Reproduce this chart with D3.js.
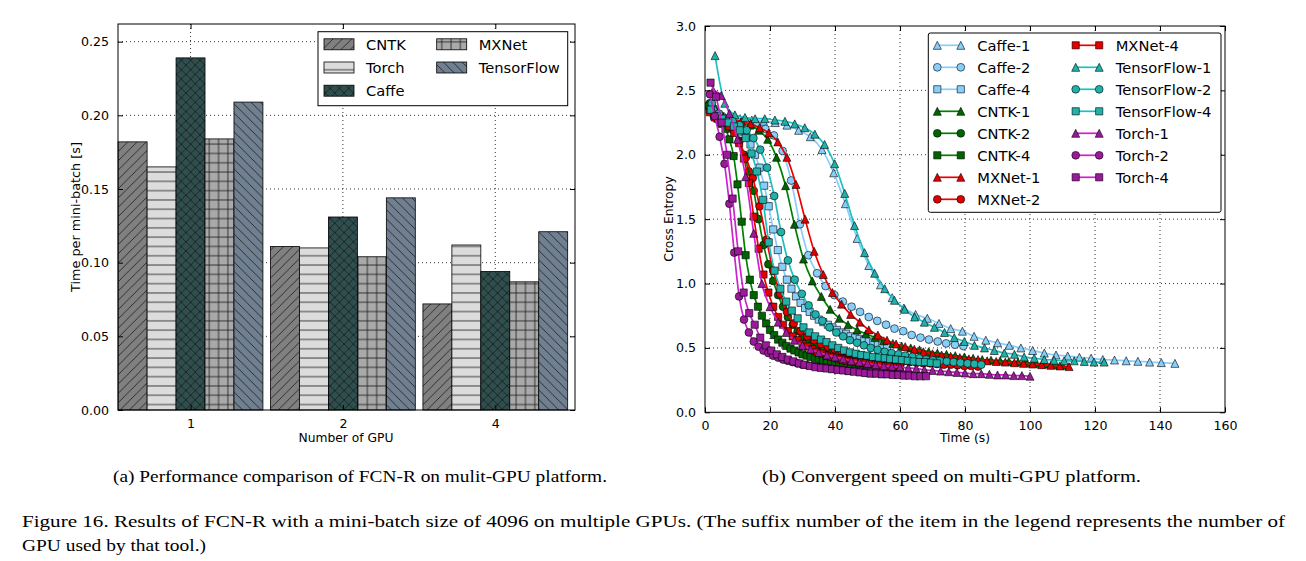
<!DOCTYPE html>
<html><head><meta charset="utf-8">
<script src="https://cdn.jsdelivr.net/npm/d3@7"></script>
<style>body{margin:0;background:#fff} svg{display:block}</style>
</head><body><svg id="c" width="1306" height="561"></svg>
<script>
// ---------------- DATA ----------------
const groups = ["1", "2", "4"];
const frameworks = ["CNTK", "Torch", "Caffe", "MXNet", "TensorFlow"];
const barCNTK = [0.182, 0.111, 0.072];
const barTorch = [0.165, 0.110, 0.112];
const barCaffe = [0.239, 0.131, 0.094];
const barMXNet = [0.184, 0.104, 0.087];
const barTensorFlow = [0.209, 0.144, 0.121];
const leftYTicks = [0, 0.05, 0.10, 0.15, 0.20, 0.25];

const rightXTicks = [0, 20, 40, 60, 80, 100, 120, 140, 160];
const rightYTicks = [0, 0.5, 1.0, 1.5, 2.0, 2.5, 3.0];

const caffe1 = [[3.6,2.30],[7.2,2.29],[10.8,2.28],[14.4,2.27],[18,2.26],[21.6,2.25],[25.2,2.23],[28.8,2.19],[32.4,2.14],[36,2.04],[39.6,1.86],[43.2,1.62],[46.8,1.35],[50.4,1.14],[54,0.99],[57.6,0.89],[61.2,0.81],[64.8,0.76],[68.4,0.73],[72,0.69],[75.6,0.65],[79.2,0.63],[82.8,0.59],[86.4,0.56],[90,0.54],[93.6,0.52],[97.2,0.50],[100.8,0.48],[104.4,0.46],[108,0.445],[111.6,0.437],[115.2,0.427],[118.8,0.42],[122.4,0.41],[126,0.406],[129.6,0.40],[133.2,0.396],[136.8,0.39],[140.4,0.386],[144.6,0.38]];
const caffe2 = [[2.7,2.36],[5.3,2.30],[8.0,2.28],[10.6,2.27],[13.3,2.25],[15.9,2.23],[18.6,2.20],[21.2,2.15],[23.9,2.03],[26.5,1.80],[29.2,1.46],[31.8,1.22],[34.5,1.08],[37.1,0.98],[39.8,0.91],[42.4,0.86],[45.1,0.82],[47.7,0.78],[50.4,0.74],[53,0.71],[55.7,0.68],[58.3,0.65],[61,0.63],[63.6,0.60],[66.3,0.58],[68.9,0.565],[71.6,0.55],[74.2,0.535],[76.9,0.525],[79.5,0.515]];
const caffe4 = [[1.4,2.35],[2.8,2.30],[4.2,2.28],[5.6,2.27],[7,2.25],[8.4,2.23],[9.8,2.21],[11.2,2.18],[12.6,2.14],[14,2.08],[15.4,2.00],[16.8,1.90],[18.2,1.76],[19.6,1.60],[21,1.42],[22.4,1.26],[23.8,1.13],[25.2,1.03],[26.6,0.96],[28,0.90],[29.4,0.85],[30.8,0.81],[32.2,0.78],[33.6,0.75],[35,0.72],[36.4,0.70],[37.8,0.68],[39.2,0.66],[40.6,0.64],[42,0.62],[43.4,0.61],[44.8,0.59],[46.2,0.58],[47.6,0.57],[49,0.56],[50.4,0.55],[51.8,0.54],[53.2,0.53],[54.6,0.52],[56,0.51]];
const cntk1 = [[2.8,2.38],[5.5,2.30],[8.3,2.27],[11,2.25],[13.8,2.23],[16.5,2.19],[19.3,2.12],[22,1.98],[24.8,1.76],[27.5,1.46],[30.3,1.19],[33,1.02],[35.8,0.90],[38.5,0.80],[41.3,0.73],[44,0.68],[46.8,0.64],[49.5,0.61],[52.3,0.58],[55,0.555],[57.8,0.535],[60.5,0.515],[63.3,0.50],[66,0.485],[68.8,0.47],[71.5,0.46],[74.3,0.45],[77,0.44],[79.8,0.43],[82.5,0.42],[85.3,0.41],[88,0.405],[90.8,0.40],[93.5,0.395],[96.3,0.39],[99,0.385],[101.8,0.38],[104.5,0.375],[107.3,0.37],[110,0.365]];
const cntk2 = [[1.5,2.40],[3,2.32],[4.5,2.28],[6,2.25],[7.5,2.22],[9,2.18],[10.5,2.11],[12,2.00],[13.5,1.87],[15,1.72],[16.5,1.50],[18,1.30],[19.5,1.15],[21,1.02],[22.5,0.91],[24,0.82],[25.5,0.74],[27,0.68],[28.5,0.63],[30,0.59],[31.5,0.56],[33,0.53],[34.5,0.51],[36,0.49],[37.5,0.47],[39,0.455],[40.5,0.445],[42,0.435],[43.5,0.425],[45,0.415],[46.5,0.405],[48,0.40],[49.5,0.395],[51,0.39],[52.5,0.385],[54,0.38],[55.5,0.375],[57,0.37],[58.5,0.365],[60,0.36]];
const cntk4 = [[1.3,2.38],[2.5,2.33],[3.8,2.28],[5,2.24],[6.3,2.20],[7.5,2.12],[8.8,1.99],[10,1.77],[11.3,1.48],[12.5,1.22],[13.8,1.03],[15,0.91],[16.3,0.82],[17.5,0.75],[18.8,0.69],[20,0.64],[21.3,0.60],[22.5,0.565],[23.8,0.54],[25,0.515],[26.3,0.495],[27.5,0.48],[28.8,0.465],[30,0.45],[31.3,0.44],[32.5,0.43],[33.8,0.42],[35,0.41],[36.3,0.405],[37.5,0.40],[38.8,0.39],[40,0.385],[41.3,0.38],[42.5,0.375],[43.8,0.37],[45,0.365],[46.3,0.36],[47.5,0.355],[48.8,0.35],[50,0.35]];
const mxnet1 = [[2.8,2.32],[5.6,2.29],[8.4,2.27],[11.2,2.26],[14,2.24],[16.8,2.21],[19.6,2.17],[22.4,2.10],[25.2,1.98],[28,1.77],[30.8,1.50],[33.6,1.25],[36.4,1.07],[39.2,0.93],[42,0.84],[44.8,0.76],[47.6,0.70],[50.4,0.64],[53.2,0.60],[56,0.56],[58.8,0.53],[61.6,0.51],[64.4,0.49],[67.2,0.47],[70,0.455],[72.8,0.445],[75.6,0.435],[78.4,0.425],[81.2,0.415],[84,0.41],[86.8,0.40],[89.6,0.395],[92.4,0.39],[95.2,0.385],[98,0.38],[100.8,0.375],[103.6,0.37],[106.4,0.365],[109.2,0.36],[112,0.355]];
const mxnet2 = [[2.1,2.35],[4.2,2.28],[6.3,2.25],[8.4,2.20],[10.5,2.10],[12.6,1.98],[14.7,1.82],[16.8,1.60],[18.9,1.34],[21,1.10],[23.1,0.92],[25.2,0.78],[27.3,0.69],[29.4,0.63],[31.5,0.59],[33.6,0.56],[35.7,0.53],[37.8,0.51],[39.9,0.49],[42,0.475],[44.1,0.46],[46.2,0.45],[48.3,0.44],[50.4,0.43],[52.5,0.42],[54.6,0.415],[56.7,0.41],[58.8,0.40],[60.9,0.395],[63,0.39],[65.1,0.385],[67.2,0.38],[69.3,0.38],[71.4,0.375],[73.5,0.37],[75.6,0.37],[77.7,0.365],[79.8,0.36],[81.9,0.36],[84,0.355]];
const mxnet4 = [[1.5,2.33],[3,2.29],[4.5,2.27],[6,2.25],[7.5,2.22],[9,2.17],[10.5,2.09],[12,1.97],[13.5,1.78],[15,1.52],[16.5,1.27],[18,1.07],[19.5,0.93],[21,0.82],[22.5,0.74],[24,0.68],[25.5,0.63],[27,0.59],[28.5,0.56],[30,0.53],[31.5,0.51],[33,0.49],[34.5,0.47],[36,0.455],[37.5,0.44],[39,0.43],[40.5,0.42],[42,0.41],[43.5,0.40],[45,0.395],[46.5,0.39],[48,0.385],[49.5,0.38],[51,0.375],[52.5,0.37],[54,0.365],[55.5,0.36],[57,0.355],[58.5,0.35],[60,0.35]];
const tf1 = [[3.1,2.77],[6.1,2.40],[9.2,2.31],[12.3,2.29],[15.4,2.28],[18.4,2.28],[21.5,2.27],[24.6,2.26],[27.6,2.24],[30.7,2.21],[33.8,2.16],[36.8,2.08],[39.9,1.93],[43,1.70],[46,1.45],[49.1,1.24],[52.2,1.08],[55.3,0.96],[58.3,0.87],[61.4,0.80],[64.5,0.74],[67.5,0.70],[70.6,0.66],[73.7,0.62],[76.7,0.58],[79.8,0.55],[82.9,0.52],[86,0.50],[89,0.48],[92.1,0.46],[95.2,0.45],[98.2,0.43],[101.3,0.42],[104.4,0.41],[107.4,0.405],[110.5,0.40],[113.6,0.40],[116.7,0.395],[119.7,0.39],[122.8,0.39]];
const tf2 = [[2.1,2.40],[4.3,2.32],[6.4,2.28],[8.5,2.26],[10.6,2.23],[12.8,2.19],[14.9,2.13],[17,2.04],[19.1,1.90],[21.3,1.68],[23.4,1.40],[25.5,1.18],[27.6,1.03],[29.8,0.92],[31.9,0.83],[34,0.76],[36.1,0.71],[38.3,0.66],[40.4,0.62],[42.5,0.59],[44.6,0.56],[46.8,0.54],[48.9,0.52],[51,0.50],[53.1,0.485],[55.3,0.47],[57.4,0.46],[59.5,0.45],[61.6,0.44],[63.8,0.43],[65.9,0.42],[68,0.41],[70.1,0.405],[72.3,0.40],[74.4,0.395],[76.5,0.39],[78.6,0.385],[80.8,0.38],[82.9,0.375],[85,0.37]];
const tf4 = [[1.8,2.35],[3.6,2.30],[5.3,2.28],[7.1,2.25],[8.9,2.22],[10.7,2.19],[12.5,2.13],[14.3,2.01],[16,1.87],[17.8,1.65],[19.6,1.32],[21.4,1.10],[23.2,0.96],[25,0.86],[26.7,0.79],[28.5,0.73],[30.3,0.66],[32.1,0.62],[33.9,0.59],[35.7,0.565],[37.4,0.545],[39.2,0.52],[41,0.50],[42.8,0.48],[44.6,0.465],[46.4,0.455],[48.1,0.445],[49.9,0.44],[51.7,0.43],[53.5,0.425],[55.3,0.42],[57,0.415],[58.8,0.41],[60.6,0.405],[62.4,0.40],[64.2,0.395],[66,0.39],[67.7,0.39],[69.5,0.385],[71.3,0.38]];
const torch1 = [[2.5,2.50],[5,2.46],[7.5,2.32],[10,2.12],[12.5,1.83],[15,1.39],[17.5,1.00],[20,0.82],[22.5,0.70],[25,0.62],[27.5,0.56],[30,0.52],[32.5,0.49],[35,0.465],[37.5,0.445],[40,0.43],[42.5,0.415],[45,0.40],[47.5,0.39],[50,0.38],[52.5,0.37],[55,0.36],[57.5,0.355],[60,0.35],[62.5,0.345],[65,0.34],[67.5,0.33],[70,0.325],[72.5,0.32],[75,0.315],[77.5,0.31],[80,0.305],[82.5,0.30],[85,0.30],[87.5,0.295],[90,0.29],[92.5,0.29],[95,0.285],[97.5,0.285],[100,0.28]];
const torch2 = [[1.5,2.47],[3,2.30],[4.5,2.14],[6,1.93],[7.5,1.62],[9,1.24],[10.5,0.90],[12,0.72],[13.5,0.62],[15,0.55],[16.5,0.51],[18,0.48],[19.5,0.46],[21,0.44],[22.5,0.425],[24,0.41],[25.5,0.40],[27,0.39],[28.5,0.38],[30,0.37],[31.5,0.365],[33,0.36],[34.5,0.355],[36,0.35],[37.5,0.345],[39,0.34],[40.5,0.335],[42,0.33],[43.5,0.325],[45,0.32],[46.5,0.32],[48,0.315],[49.5,0.31],[51,0.31],[52.5,0.305],[54,0.305],[55.5,0.30],[57,0.30],[58.5,0.295],[60,0.295]];
const torch4 = [[1.7,2.56],[3.4,2.45],[5.1,2.25],[6.8,2.00],[8.5,1.66],[10.2,1.25],[11.9,0.93],[13.6,0.77],[15.3,0.68],[17,0.58],[18.7,0.52],[20.4,0.48],[22.1,0.45],[23.8,0.43],[25.5,0.41],[27.2,0.395],[28.9,0.38],[30.6,0.37],[32.3,0.36],[34,0.35],[35.7,0.345],[37.4,0.34],[39.1,0.335],[40.8,0.33],[42.5,0.325],[44.2,0.32],[45.9,0.315],[47.6,0.31],[49.3,0.305],[51,0.30],[52.7,0.30],[54.4,0.295],[56.1,0.295],[57.8,0.29],[59.5,0.29],[61.2,0.285],[62.9,0.285],[64.6,0.28],[66.3,0.28],[68,0.28]];

const seriesNames = ["Caffe-1","Caffe-2","Caffe-4","CNTK-1","CNTK-2","CNTK-4","MXNet-1","MXNet-2","MXNet-4","TensorFlow-1","TensorFlow-2","TensorFlow-4","Torch-1","Torch-2","Torch-4"];
const seriesData = [caffe1, caffe2, caffe4, cntk1, cntk2, cntk4, mxnet1, mxnet2, mxnet4, tf1, tf2, tf4, torch1, torch2, torch4];

// ---------------- STYLE ----------------
const FONT = "DejaVu Sans, sans-serif";
const svg = d3.select("#c");
const defs = svg.append("defs");
const P = 9.3;
function makePattern(id, fill, kind) {
  const p = defs.append("pattern").attr("id", id).attr("patternUnits", "userSpaceOnUse")
    .attr("width", P).attr("height", P);
  p.append("rect").attr("width", P).attr("height", P).attr("fill", fill);
  let d = "";
  const fwd = `M0,${P} L${P},0 M${-P/2},${P/2} L${P/2},${-P/2} M${P/2},${1.5*P} L${1.5*P},${P/2}`;
  const bwd = `M0,0 L${P},${P} M${-P/2},${P/2} L${P/2},${1.5*P} M${P/2},${-P/2} L${1.5*P},${P/2}`;
  if (kind === "/") d = fwd;
  if (kind === "\\") d = bwd;
  if (kind === "x") d = fwd + bwd;
  if (kind === "-") d = `M0,${P/2} L${P},${P/2}`;
  if (kind === "+") d = `M0,${P/2} L${P},${P/2} M${P/2},0 L${P/2},${P}`;
  p.append("path").attr("d", d).attr("stroke", "#1a1a1a").attr("stroke-width", 0.8).attr("fill", "none");
}
const barFills = ["#808080", "#dcdcdc", "#2f4f4f", "#a9a9a9", "#708090"];
const barHatch = ["/", "-", "x", "+", "\\"];
frameworks.forEach((f, i) => makePattern("pat" + i, barFills[i], barHatch[i]));

// ---------------- LEFT CHART ----------------
const L = {left: 118, right: 575, top: 24, bottom: 410};
const xL = d3.scaleLinear().domain([-0.476, 2.523]).range([L.left, L.right]);
const yL = d3.scaleLinear().domain([0, 0.262]).range([L.bottom, L.top]);
const bw = 0.19;
const barSeries = [barCNTK, barTorch, barCaffe, barMXNet, barTensorFlow];
const gL = svg.append("g");

gL.selectAll(".gy").data(leftYTicks.slice(1)).join("line")
  .attr("x1", L.left).attr("x2", L.right).attr("y1", d => yL(d)).attr("y2", d => yL(d))
  .attr("stroke", "#000").attr("stroke-width", 0.8).attr("stroke-dasharray", "1,3");
gL.selectAll(".gx").data(groups).join("line")
  .attr("x1", (d, i) => xL(i)).attr("x2", (d, i) => xL(i)).attr("y1", L.top).attr("y2", L.bottom)
  .attr("stroke", "#000").attr("stroke-width", 0.8).attr("stroke-dasharray", "1,3");

barSeries.forEach((vals, k) => {
  gL.selectAll(".b" + k).data(vals).join("rect")
    .attr("x", (d, i) => xL(i + (k - 2.5) * bw))
    .attr("width", xL(bw) - xL(0))
    .attr("y", d => yL(d)).attr("height", d => yL(0) - yL(d))
    .attr("fill", `url(#pat${k})`).attr("stroke", "#000").attr("stroke-width", 0.8);
});

gL.append("rect").attr("x", L.left).attr("y", L.top).attr("width", L.right - L.left).attr("height", L.bottom - L.top)
  .attr("fill", "none").attr("stroke", "#000").attr("stroke-width", 1);

const yAxL = d3.axisLeft(yL).tickValues(leftYTicks).tickFormat(d3.format(".2f")).tickSizeInner(-5).tickSizeOuter(0).tickPadding(9);
const yAxLg = gL.append("g").attr("transform", `translate(${L.left},0)`).call(yAxL);
const yAxR = d3.axisRight(yL).tickValues(leftYTicks).tickFormat("").tickSizeInner(-5).tickSizeOuter(0);
const yAxRg = gL.append("g").attr("transform", `translate(${L.right},0)`).call(yAxR);
const xAxL = d3.axisBottom(xL).tickValues([0, 1, 2]).tickFormat((d, i) => groups[i]).tickSizeInner(-5).tickSizeOuter(0).tickPadding(9);
const xAxLg = gL.append("g").attr("transform", `translate(0,${L.bottom})`).call(xAxL);
const xAxT = d3.axisTop(xL).tickValues([0, 1, 2]).tickFormat("").tickSizeInner(-5).tickSizeOuter(0);
const xAxTg = gL.append("g").attr("transform", `translate(0,${L.top})`).call(xAxT);
[yAxLg, yAxRg, xAxLg, xAxTg].forEach(g => {
  g.select(".domain").remove();
  g.selectAll("text").attr("font-family", FONT).attr("font-size", 12.6).attr("fill", "#000");
});
gL.append("text").attr("x", 346).attr("y", 438).attr("text-anchor", "middle").attr("dominant-baseline", "central")
  .attr("font-family", FONT).attr("font-size", 12.3).text("Number of GPU");
gL.append("text").attr("transform", "translate(75,217) rotate(-90)").attr("text-anchor", "middle").attr("dominant-baseline", "central")
  .attr("font-family", FONT).attr("font-size", 12.8).text("Time per mini-batch [s]");

const lgL = gL.append("g");
lgL.append("rect").attr("x", 318).attr("y", 31.7).attr("width", 249.7).attr("height", 74).attr("fill", "#fff").attr("stroke", "#000").attr("stroke-width", 1);
const legPosL = [[324, 44.3], [324, 67.5], [324, 90.7], [436.7, 44.3], [436.7, 67.5]];
frameworks.forEach((f, k) => {
  const [lx, ly] = legPosL[k];
  lgL.append("rect").attr("x", lx).attr("y", ly - 5.5).attr("width", 30).attr("height", 11)
    .attr("fill", `url(#pat${k})`).attr("stroke", "#000").attr("stroke-width", 0.8);
  lgL.append("text").attr("x", lx + 42).attr("y", ly).attr("dominant-baseline", "central")
    .attr("font-family", FONT).attr("font-size", 14.7).text(f);
});

// ---------------- RIGHT CHART ----------------
const R = {left: 705, right: 1225, top: 26, bottom: 412.3};
const xR = d3.scaleLinear().domain([0, 160]).range([R.left, R.right]);
const yR = d3.scaleLinear().domain([0, 3]).range([R.bottom, R.top]);
const gR = svg.append("g");
gR.selectAll(".gy").data(rightYTicks.slice(1, -1)).join("line")
  .attr("x1", R.left).attr("x2", R.right).attr("y1", d => yR(d)).attr("y2", d => yR(d))
  .attr("stroke", "#000").attr("stroke-width", 0.8).attr("stroke-dasharray", "1,3");
gR.selectAll(".gx").data(rightXTicks.slice(1, -1)).join("line")
  .attr("x1", d => xR(d)).attr("x2", d => xR(d)).attr("y1", R.top).attr("y2", R.bottom)
  .attr("stroke", "#000").attr("stroke-width", 0.8).attr("stroke-dasharray", "1,3");

const lineCol = {Caffe: "#87cefa", CNTK: "#008000", MXNet: "#ee0000", TensorFlow: "#20bfbf", Torch: "#cc22cc"};
const markCol = {Caffe: "#87cefa", CNTK: "#006400", MXNet: "#e00000", TensorFlow: "#20b2aa", Torch: "#9a1a9a"};
function markerPath(n) {
  const s = 4;
  if (n === "1") return `M0,${-s} L${s},${s} L${-s},${s} Z`;
  if (n === "4") return `M${-s*0.9},${-s*0.9} H${s*0.9} V${s*0.9} H${-s*0.9} Z`;
  return d3.symbol(d3.symbolCircle, Math.PI * 3.9 * 3.9)();
}
svg.append("clipPath").attr("id", "clipR").append("rect")
  .attr("x", R.left).attr("y", R.top).attr("width", R.right - R.left).attr("height", R.bottom - R.top);
const plotR = gR.append("g").attr("clip-path", "url(#clipR)");
const line = d3.line().x(d => xR(d[0])).y(d => yR(d[1])).curve(d3.curveMonotoneX);
seriesNames.forEach((name, i) => {
  const [fw, n] = name.split("-");
  const data = seriesData[i];
  const g = plotR.append("g");
  g.append("path").attr("d", line(data)).attr("fill", "none").attr("stroke", lineCol[fw]).attr("stroke-width", 1.7);
  g.selectAll("path.m").data(data).join("path").attr("class", "m")
    .attr("transform", d => `translate(${xR(d[0])},${yR(d[1])})`)
    .attr("d", markerPath(n)).attr("fill", markCol[fw]).attr("stroke", "#000").attr("stroke-width", 0.6);
});

gR.append("rect").attr("x", R.left).attr("y", R.top).attr("width", R.right - R.left).attr("height", R.bottom - R.top)
  .attr("fill", "none").attr("stroke", "#000").attr("stroke-width", 1);
const yAxR1 = gR.append("g").attr("transform", `translate(${R.left},0)`)
  .call(d3.axisLeft(yR).tickValues(rightYTicks).tickFormat(d3.format(".1f")).tickSizeInner(-5).tickSizeOuter(0).tickPadding(9));
const yAxR2 = gR.append("g").attr("transform", `translate(${R.right},0)`)
  .call(d3.axisRight(yR).tickValues(rightYTicks).tickFormat("").tickSizeInner(-5).tickSizeOuter(0));
const xAxR1 = gR.append("g").attr("transform", `translate(0,${R.bottom})`)
  .call(d3.axisBottom(xR).tickValues(rightXTicks).tickFormat(d3.format("d")).tickSizeInner(-5).tickSizeOuter(0).tickPadding(9));
const xAxR2 = gR.append("g").attr("transform", `translate(0,${R.top})`)
  .call(d3.axisTop(xR).tickValues(rightXTicks).tickFormat("").tickSizeInner(-5).tickSizeOuter(0));
[yAxR1, yAxR2, xAxR1, xAxR2].forEach(g => {
  g.select(".domain").remove();
  g.selectAll("text").attr("font-family", FONT).attr("font-size", 12.6).attr("fill", "#000");
});
gR.append("text").attr("x", 965).attr("y", 438).attr("text-anchor", "middle").attr("dominant-baseline", "central")
  .attr("font-family", FONT).attr("font-size", 12.3).text("Time (s)");
gR.append("text").attr("transform", "translate(669,219) rotate(-90)").attr("text-anchor", "middle").attr("dominant-baseline", "central")
  .attr("font-family", FONT).attr("font-size", 12.3).text("Cross Entropy");

const lgR = gR.append("g");
lgR.append("rect").attr("x", 928.3).attr("y", 33).attr("width", 292.7).attr("height", 179.3).attr("rx", 2)
  .attr("fill", "#fff").attr("stroke", "#000").attr("stroke-width", 1);
seriesNames.forEach((name, i) => {
  const [fw, n] = name.split("-");
  const col = i < 8 ? 0 : 1;
  const row = i < 8 ? i : i - 8;
  const x0 = col === 0 ? 937.3 : 1075.7;
  const x1 = x0 + 23.5;
  const ly = 45.3 + row * 22;
  lgR.append("line").attr("x1", x0).attr("x2", x1).attr("y1", ly).attr("y2", ly).attr("stroke", lineCol[fw]).attr("stroke-width", 1.7);
  [x0, x1].forEach(px => lgR.append("path").attr("transform", `translate(${px},${ly})`).attr("d", markerPath(n))
    .attr("fill", markCol[fw]).attr("stroke", "#000").attr("stroke-width", 0.6));
  lgR.append("text").attr("x", x0 + 40).attr("y", ly).attr("dominant-baseline", "central")
    .attr("font-family", FONT).attr("font-size", 14.7).text(name);
});

// ---------------- CAPTIONS ----------------
const SERIF = "Liberation Serif, Times New Roman, serif";
svg.append("text").attr("x", 113).attr("y", 476).attr("dominant-baseline", "central").attr("font-family", SERIF)
  .attr("font-size", 17).attr("textLength", 494).attr("lengthAdjust", "spacingAndGlyphs")
  .text("(a) Performance comparison of FCN-R on mulit-GPU platform.");
svg.append("text").attr("x", 762).attr("y", 476).attr("dominant-baseline", "central").attr("font-family", SERIF)
  .attr("font-size", 17).attr("textLength", 379).attr("lengthAdjust", "spacingAndGlyphs")
  .text("(b) Convergent speed on multi-GPU platform.");
svg.append("text").attr("x", 22).attr("y", 521).attr("dominant-baseline", "central").attr("font-family", SERIF)
  .attr("font-size", 17).attr("textLength", 1263).attr("lengthAdjust", "spacingAndGlyphs")
  .text("Figure 16. Results of FCN-R with a mini-batch size of 4096 on multiple GPUs. (The suffix number of the item in the legend represents the number of");
svg.append("text").attr("x", 22).attr("y", 545).attr("dominant-baseline", "central").attr("font-family", SERIF)
  .attr("font-size", 17).attr("textLength", 184).attr("lengthAdjust", "spacingAndGlyphs")
  .text("GPU used by that tool.)");
</script></body></html>
